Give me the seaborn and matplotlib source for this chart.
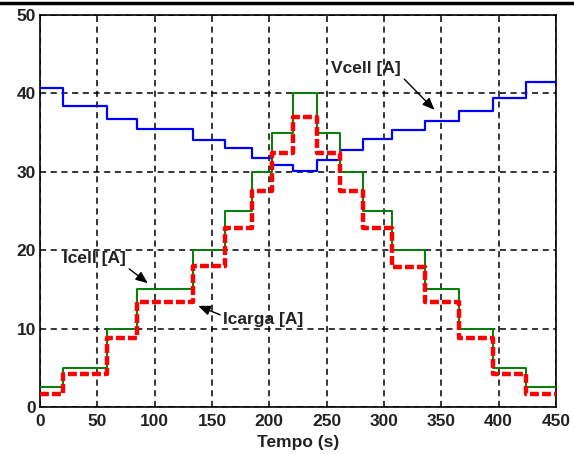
import matplotlib
matplotlib.use("Agg")
import matplotlib.pyplot as plt
from matplotlib.lines import Line2D
import pandas as pd
import seaborn as sns

# Step change instants (s)
t_edges = [0, 20, 58, 85, 133, 161, 185, 202, 221, 242, 262, 282, 307, 336, 365, 395, 424, 450]
# Cell current per step [A]
icell = [2.5, 5, 10, 15, 20, 25, 30, 35, 40, 35, 30, 25, 20, 15, 10, 5, 2.5]
# Load current per step [A]
icarga = [1.7, 4.2, 8.8, 13.4, 18.0, 22.8, 27.5, 32.4, 37.0, 32.4, 27.6, 22.8, 17.9, 13.4, 8.8, 4.2, 1.6]
# Cell voltage per step
vcell = [40.7, 38.4, 36.7, 35.4, 34.1, 33.0, 31.7, 30.9, 30.1, 31.5, 32.8, 34.2, 35.3, 36.5, 37.8, 39.4, 41.4]

x_ticks = [0, 50, 100, 150, 200, 250, 300, 350, 400, 450]
y_ticks = [0, 10, 20, 30, 40, 50]

sns.set_style("white")
plt.rcParams["font.family"] = ["Liberation Sans", "DejaVu Sans"]

def steps(vals):
    return pd.DataFrame({"t": t_edges, "v": list(vals) + [vals[-1]]})

fig = plt.figure(figsize=(5.74, 4.54), dpi=100)
ax = fig.add_axes([0.0697, 0.1035, 0.8989, 0.8635])

sns.lineplot(data=steps(vcell), x="t", y="v", ax=ax, color="#0000ff",
             linewidth=1.6, drawstyle="steps-post", estimator=None, zorder=3)
sns.lineplot(data=steps(icell), x="t", y="v", ax=ax, color="#008000",
             linewidth=1.4, drawstyle="steps-post", estimator=None, zorder=4)
sns.lineplot(data=steps(icarga), x="t", y="v", ax=ax, color="#ff0000",
             linewidth=3.2, drawstyle="steps-post", estimator=None, zorder=5)
ax.lines[-1].set_linestyle((0, (2.0, 0.7)))

ax.set_xlim(0, 450)
ax.set_ylim(0, 50)
ax.set_xticks(x_ticks)
ax.set_yticks(y_ticks)
tick_font = dict(fontsize=12.5, fontweight="bold", color="#222222")
ax.set_xticklabels([str(v) for v in x_ticks], **tick_font)
ax.set_yticklabels([str(v) for v in y_ticks], **tick_font)
ax.tick_params(axis="x", direction="in", length=4, width=1, color="black", pad=5)
ax.tick_params(axis="y", direction="in", length=4, width=1, color="black", pad=3)
ax.set_xlabel("Tempo (s)", labelpad=4, **tick_font)
ax.set_ylabel("")

ax.grid(True, color="black", linestyle=(0, (4, 3)), linewidth=1.1)
for s in ax.spines.values():
    s.set_color("black")
    s.set_linewidth(1.2)

ann = dict(fontsize=12.5, fontweight="bold", color="#222222")
arrow = dict(arrowstyle="-|>,head_length=0.6,head_width=0.25", color="black",
             lw=1.0, mutation_scale=12, shrinkA=0, shrinkB=0)
ax.annotate("Vcell [A]", xy=(344, 37.9), xytext=(254, 43.2), va="center",
            arrowprops=dict(arrow, relpos=(1.0, 0.0)), **ann)
ax.annotate("Icell [A]", xy=(94, 15.8), xytext=(20, 18.9), va="center",
            arrowprops=dict(arrow, relpos=(1.0, 0.0)), **ann)
ax.annotate("Icarga [A]", xy=(138, 12.9), xytext=(160, 11.2), va="center",
            arrowprops=dict(arrow, relpos=(0.0, 0.7)), **ann)

fig.add_artist(Line2D([0, 1], [0.9935, 0.9935], transform=fig.transFigure,
                      color="black", linewidth=2.5))

fig.savefig("out.png", dpi=100)
